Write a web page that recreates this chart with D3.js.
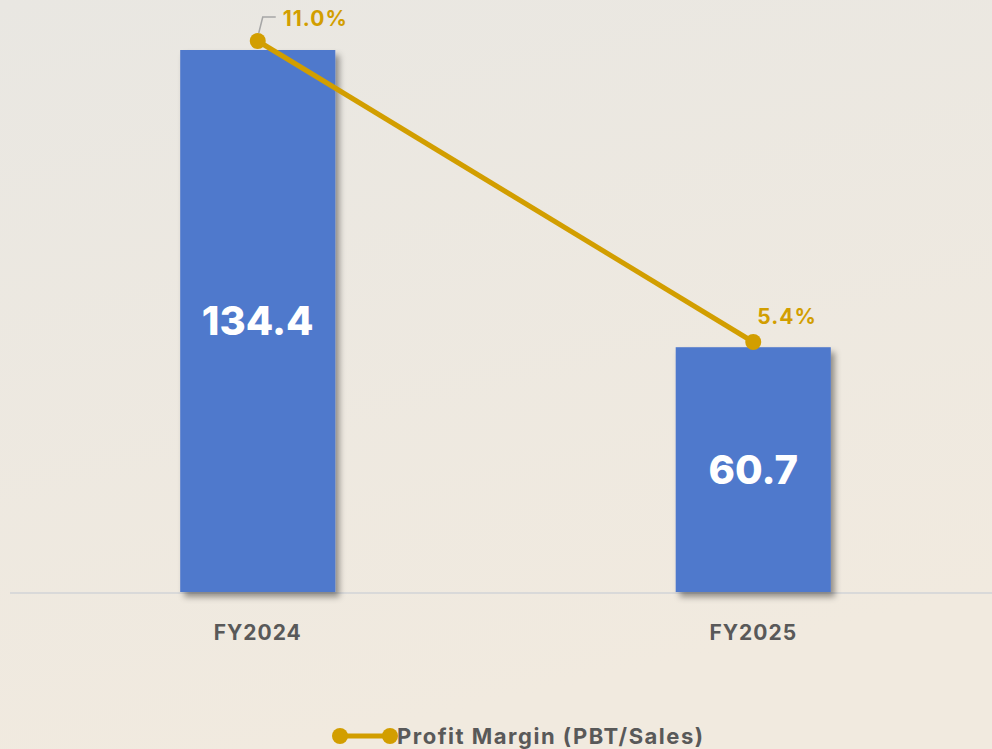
<!DOCTYPE html>
<html lang="en">
<head>
<meta charset="UTF-8">
<title>PBT and profit margin</title>
<script src="https://d3js.org/d3.v7.min.js"></script>
<style>
  html, body { margin: 0; padding: 0; overflow: hidden; }
  svg { display: block; font-family: Inter, "Open Sans", sans-serif; }
</style>
</head>
<body>
<svg id="chart"></svg>
<script>
// data
var years = ["FY2024", "FY2025"];
var pbt = [134.4, 60.7];
var margin = [11.0, 5.4];
var legendLabel = "Profit Margin (PBT/Sales)";

var W = 992, H = 749;
var barColor = "#5079cc", lineColor = "#d29e00", textGrey = "#595959";

var svg = d3.select("#chart").attr("width", W).attr("height", H);
var defs = svg.append("defs");

// soft beige background
var bg = defs.append("linearGradient").attr("id", "bg")
    .attr("x1", 0).attr("y1", 0).attr("x2", 0.3).attr("y2", 1);
bg.append("stop").attr("offset", "0%").attr("stop-color", "#e9e7e2");
bg.append("stop").attr("offset", "100%").attr("stop-color", "#f1eadf");
svg.append("rect").attr("width", W).attr("height", H).attr("fill", "url(#bg)");

// drop shadow for bars
var f = defs.append("filter").attr("id", "shadow")
    .attr("x", "-10%").attr("y", "-10%").attr("width", "130%").attr("height", "130%");
f.append("feDropShadow").attr("dx", 4).attr("dy", 5).attr("stdDeviation", 3)
    .attr("flood-color", "#000").attr("flood-opacity", 0.4);

// scales
var x = d3.scaleBand().domain(years).range([10, 1001])
    .paddingInner(0.687).paddingOuter(0.3435);
var y = d3.scaleLinear().domain([0, 134.4]).range([592, 50]);
var y2 = d3.scaleLinear().domain([5.4, 11.0]).range([342, 41]);

// baseline
svg.append("line")
    .attr("x1", 10).attr("x2", W)
    .attr("y1", y(0) + 1).attr("y2", y(0) + 1)
    .attr("stroke", "#d9d9d9").attr("stroke-width", 2);

// bars
svg.append("g").selectAll("rect")
    .data(pbt)
    .enter()
    .append("rect")
    .attr("x", function(d, i){ return x(years[i]); })
    .attr("y", function(d){ return y(d); })
    .attr("width", x.bandwidth())
    .attr("height", function(d){ return y(0) - y(d); })
    .attr("fill", barColor)
    .attr("filter", "url(#shadow)");

// bar value labels
svg.append("g").selectAll("text")
    .data(pbt)
    .enter()
    .append("text")
    .attr("x", function(d, i){ return x(years[i]) + x.bandwidth() / 2; })
    .attr("y", function(d){ return (y(d) + y(0)) / 2; })
    .attr("dy", "0.36em")
    .attr("text-anchor", "middle")
    .attr("font-size", 40).attr("font-weight", 800)
    .attr("fill", "#fff")
    .text(function(d){ return d.toFixed(1); });

// category labels
svg.append("g").selectAll("text")
    .data(years)
    .enter()
    .append("text")
    .attr("x", function(d){ return x(d) + x.bandwidth() / 2; })
    .attr("y", 640)
    .attr("text-anchor", "middle")
    .attr("font-size", 21).attr("font-weight", 700)
    .attr("letter-spacing", 1)
    .attr("fill", textGrey)
    .text(function(d){ return d; });

// margin line
var cx = function(i){ return x(years[i]) + x.bandwidth() / 2; };
var line = d3.line()
    .x(function(d, i){ return cx(i); })
    .y(function(d){ return y2(d); });
svg.append("path")
    .datum(margin)
    .attr("d", line)
    .attr("fill", "none")
    .attr("stroke", lineColor)
    .attr("stroke-width", 5);
svg.append("g").selectAll("circle")
    .data(margin)
    .enter()
    .append("circle")
    .attr("cx", function(d, i){ return cx(i); })
    .attr("cy", function(d){ return y2(d); })
    .attr("r", 8)
    .attr("fill", lineColor);

// leader line for the first label
svg.append("polyline")
    .attr("points", [[cx(0) + 1, y2(margin[0]) - 8], [cx(0) + 5, 17], [cx(0) + 18, 17]].join(" "))
    .attr("fill", "none").attr("stroke", "#a6a6a6").attr("stroke-width", 1.5);

// margin labels
var labelPos = [[cx(0) + 25, 18], [cx(1) + 4, 316]];
svg.append("g").selectAll("text")
    .data(margin)
    .enter()
    .append("text")
    .attr("x", function(d, i){ return labelPos[i][0]; })
    .attr("y", function(d, i){ return labelPos[i][1]; })
    .attr("dy", "0.36em")
    .attr("font-size", 21).attr("font-weight", 700)
    .attr("letter-spacing", 1)
    .attr("fill", lineColor)
    .text(function(d){ return d.toFixed(1) + "%"; });

// legend
var lg = svg.append("g").attr("transform", "translate(340,736)");
lg.append("line").attr("x1", 0).attr("x2", 50).attr("y1", 0).attr("y2", 0)
    .attr("stroke", lineColor).attr("stroke-width", 5);
lg.selectAll("circle").data([0, 50]).enter().append("circle")
    .attr("cx", function(d){ return d; }).attr("cy", 0).attr("r", 8)
    .attr("fill", lineColor);
lg.append("text")
    .attr("x", 57).attr("y", 8)
    .attr("font-size", 22).attr("font-weight", 700)
    .attr("letter-spacing", 1.5)
    .attr("fill", textGrey)
    .text(legendLabel);
</script>
</body>
</html>
